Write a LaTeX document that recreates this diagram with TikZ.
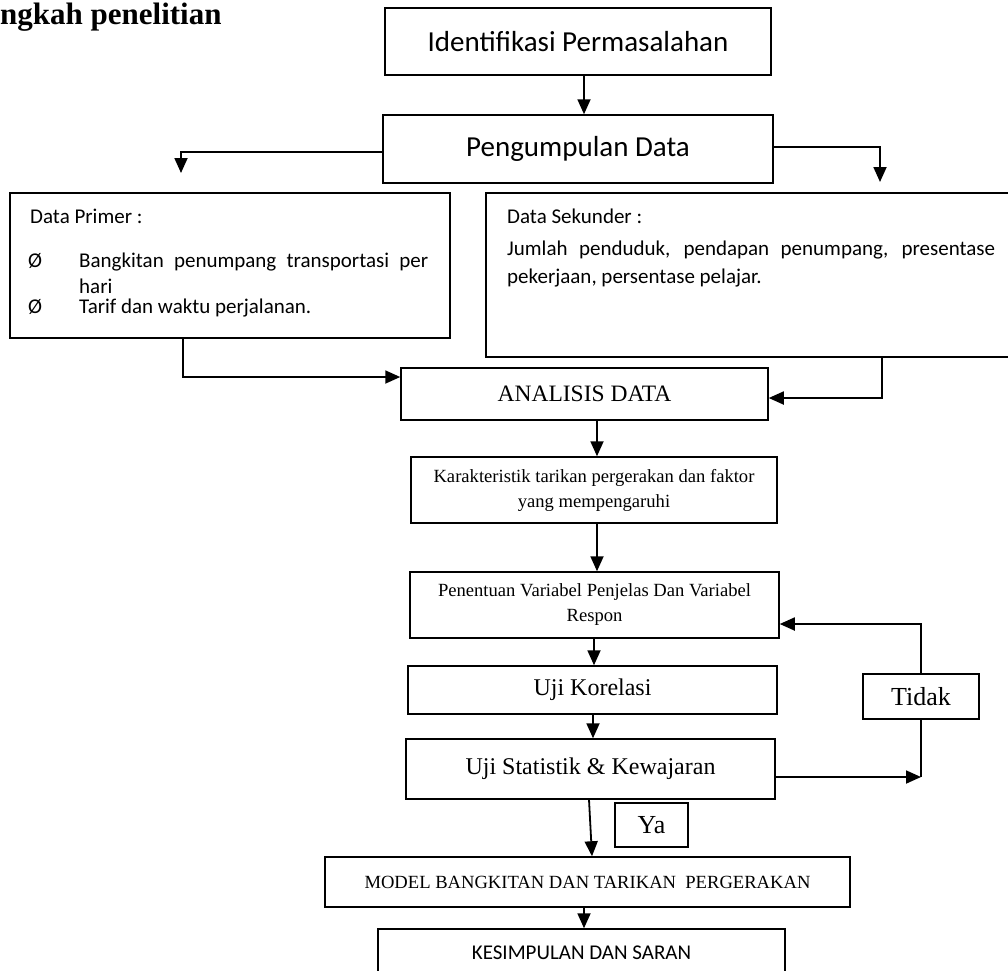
\documentclass[tikz,border=0pt]{standalone}
\usepackage{fontspec}
\setmainfont{Liberation Serif}
\newfontfamily\sansfont{Carlito}
\usetikzlibrary{arrows.meta}

\begin{document}
\begin{tikzpicture}[x=1pt, y=-1pt,
    box/.style={draw, line width=1.5pt, inner sep=0pt},
    txt/.style={anchor=base west, inner sep=0pt},
    sans/.style={font={\sansfont\fontsize{#1}{26}\selectfont}},
    serif/.style={font={\fontsize{#1}{25}\selectfont}},
    arr/.style={line width=1.8pt, -{Triangle[length=15pt, width=13pt]}},
    line/.style={line width=1.8pt}]
    \useasboundingbox (0,0) rectangle (1008,970);

    \node[txt, font=\bfseries\fontsize{31}{36}\selectfont] (Title) at (0,24) {ngkah penelitian};

    \node[box, minimum width=386pt, minimum height=67pt, sans=29] (Identifikasi) at (578,41.5) {Identifikasi Permasalahan};
    \node[box, minimum width=390pt, minimum height=68pt, sans=29] (Pengumpulan) at (578,149) {Pengumpulan Data};

    % data boxes
    \node[box, minimum width=440pt, minimum height=145pt] (Primer) at (230,265.5) {};
    \node[box, minimum width=526pt, minimum height=164pt] (Sekunder) at (749,275) {};
    \node[txt, sans=21] (Primer Title) at (30,223) {Data Primer :};
    \node[txt, sans=21] (Bullet 1) at (28,267) {Ø};
    \node[txt, sans=21] (Item 1) at (79,267) {\makebox[349pt][s]{Bangkitan penumpang transportasi per}};
    \node[txt, sans=21] (Item 1b) at (79,293) {hari};
    \node[txt, sans=21] (Bullet 2) at (28,313) {Ø};
    \node[txt, sans=21] (Item 2) at (79,313) {Tarif dan waktu perjalanan.};
    \node[txt, sans=21] (Sekunder Title) at (507,223) {Data Sekunder :};
    \node[txt, sans=21] (Sekunder 1) at (507,255) {\makebox[488pt][s]{Jumlah penduduk, pendapan penumpang, presentase}};
    \node[txt, sans=21] (Sekunder 2) at (507,283) {pekerjaan, persentase pelajar.};

    \node[box, minimum width=367pt, minimum height=52pt, serif=23.5] (Analisis) at (584.5,394) {ANALISIS DATA};
    \node[box, minimum width=366pt, minimum height=66pt, serif=18.6, align=center] (Karakteristik) at (594,490) {Karakteristik tarikan pergerakan dan faktor\\yang mempengaruhi};
    \node[box, minimum width=369pt, minimum height=66pt, serif=18.6, align=center] (Penentuan) at (594.5,605) {Penentuan Variabel Penjelas Dan Variabel\\Respon};
    \node[box, minimum width=369pt, minimum height=48pt, serif=24] (Korelasi) at (592.5,690) {Uji Korelasi};
    \node[box, minimum width=369pt, minimum height=60pt, serif=24] (Statistik) at (590.5,769) {Uji Statistik \& Kewajaran};
    \node[box, minimum width=116pt, minimum height=45pt, serif=26] (Tidak) at (921,696.5) {Tidak};
    \node[box, minimum width=73pt, minimum height=44pt, serif=26] (Ya) at (651.5,825) {Ya};
    \node[box, minimum width=525pt, minimum height=50pt, serif=18.6] (Model) at (587.5,882) {MODEL BANGKITAN DAN TARIKAN\ \ PERGERAKAN};
    \node[box, minimum width=407pt, minimum height=48pt, sans=21] (Kesimpulan) at (581.5,953) {KESIMPULAN DAN SARAN};

    \coordinate (Primer In) at (181,173);
    \coordinate (Sekunder In) at (880,182);
    \coordinate (Loop Corner) at (921,777);

    % connectors
    \draw[arr] (Identifikasi.south -| 584,0) -- (Pengumpulan.north -| 584,0);
    \draw[arr] (Pengumpulan.west |- 0,152) -| (Primer In);
    \draw[arr] (Pengumpulan.east |- 0,147) -| (Sekunder In);
    \draw[arr] (Primer.south -| 183,0) |- (Analisis.west |- 0,377);
    \draw[arr] (Sekunder.south -| 882,0) |- (Analisis.east |- 0,398);
    \draw[arr] (Analisis.south -| 597,0) -- (Karakteristik.north -| 597,0);
    \draw[arr] (Karakteristik.south -| 597,0) -- (Penentuan.north -| 597,0);
    \draw[arr] (Penentuan.south -| 594,0) -- (Korelasi.north -| 594,0);
    \draw[arr] (Korelasi.south -| 593,0) -- (Statistik.north -| 593,0);
    \draw[arr] (Statistik.east |- 0,777) -- (Loop Corner);
    \draw[line] (Loop Corner) -- (Tidak.south);
    \draw[arr] (Tidak.north) |- (Penentuan.east |- 0,624);
    \draw[arr] (Statistik.south -| 589,0) -- (Model.north -| 592,0);
    \draw[arr] (Model.south -| 584,0) -- (Kesimpulan.north -| 584,0);
\end{tikzpicture}
\end{document}
